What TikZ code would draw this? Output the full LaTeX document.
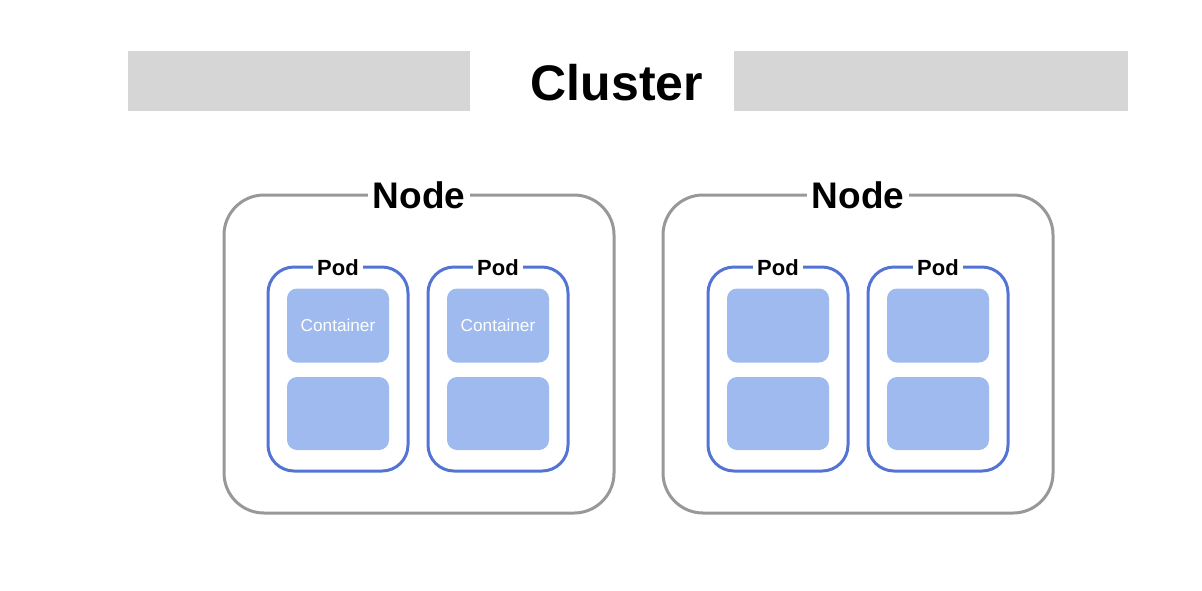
\documentclass[tikz,border=0pt]{standalone}
\usepackage{fontspec}
\setmainfont{Liberation Sans}
\definecolor{bargray}{RGB}{214,214,214}
\definecolor{nodegray}{RGB}{152,152,152}
\definecolor{podblue}{RGB}{84,116,212}
\definecolor{boxblue}{RGB}{158,186,238}
\begin{document}
\begin{tikzpicture}[x=0.5pt, y=-0.5pt,
  bar/.style={fill=bargray, inner sep=0, minimum height=30pt},
  machine/.style={draw=nodegray, line width=1.5pt, rounded corners=20pt,
    minimum width=195pt, minimum height=159pt, inner sep=0},
  pod/.style={draw=podblue, line width=1.5pt, rounded corners=13pt,
    minimum width=70pt, minimum height=102pt, inner sep=0},
  ctr/.style={fill=boxblue, rounded corners=5pt, minimum width=51pt,
    minimum height=37pt, inner sep=0, text=white,
    font=\fontsize{8.6}{10}\selectfont},
  tag/.style={fill=white, inner sep=2.5pt, font=\bfseries}]
  \useasboundingbox (0,0) rectangle (1202,590);
  % judul cluster dengan dua batang abu-abu
  \node[bar, minimum width=171pt] (barL) at (299,81) {};
  \node[bar, minimum width=197pt] (barR) at (931,81) {};
  \node[font=\fontsize{25}{29}\selectfont\bfseries] (cluster) at (617,83) {Cluster};
  % dua node
  \foreach \n/\x in {A/419, B/858} {
    \node[machine] (node\n) at (\x,354) {};
    \node[tag, yshift=-1pt, font=\fontsize{18.5}{22}\selectfont\bfseries] (lbl\n) at (node\n.north) {Node};
  }
  % pod beserta kontainernya
  \foreach \p/\x/\t in {1/338/Container, 2/498/Container, 3/778/{}, 4/938/{}} {
    \node[pod] (pod\p) at (\x,369) {};
    \node[tag, inner sep=2pt, yshift=-1pt, font=\fontsize{11}{13}\selectfont\bfseries] (plbl\p) at (pod\p.north) {Pod};
    \node[ctr] (ctr\p a) at (\x,325.5) {\t};
    \node[ctr, minimum height=36.5pt] (ctr\p b) at (\x,413.5) {};
  }
\end{tikzpicture}
\end{document}
